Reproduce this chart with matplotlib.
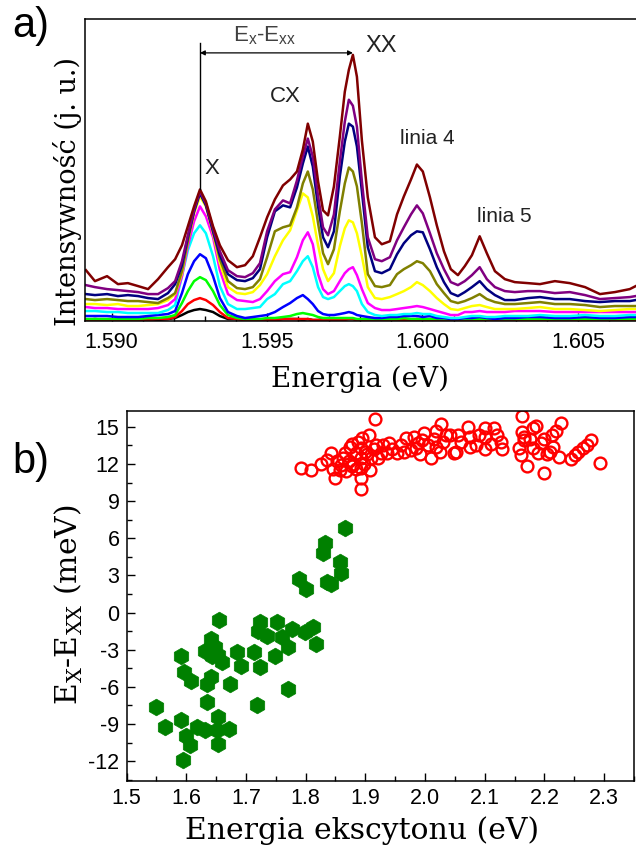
import numpy as np
import matplotlib.pyplot as plt
from matplotlib.ticker import MultipleLocator, FormatStrFormatter

plt.rcParams['font.family'] = ['Liberation Sans', 'DejaVu Sans']
plt.rcParams['axes.unicode_minus'] = False

# --- a) PL spectra, energy in eV, intensity in arbitrary units
energy = [1.58917, 1.58946, 1.58985, 1.59020, 1.59052, 1.59085, 1.59117, 1.59149, 1.59181, 1.59204,
          1.59226, 1.59245, 1.59265, 1.59284, 1.59303, 1.59326, 1.59348, 1.59374, 1.59403, 1.59429,
          1.59454, 1.59477, 1.59500, 1.59525, 1.59551, 1.59574, 1.59596, 1.59615, 1.59631, 1.59647,
          1.59664, 1.59680, 1.59696, 1.59715, 1.59734, 1.59750, 1.59763, 1.59776, 1.59789, 1.59805,
          1.59824, 1.59847, 1.59869, 1.59895, 1.59918, 1.59940, 1.59963, 1.59982, 1.60001, 1.60024,
          1.60046, 1.60069, 1.60091, 1.60114, 1.60136, 1.60159, 1.60184, 1.60207, 1.60233, 1.60265,
          1.60297, 1.60339, 1.60378, 1.60426, 1.60474, 1.60523, 1.60571, 1.60619, 1.60667, 1.60686]

black = [11, 12, 11, 12, 11, 12, 12, 11, 12, 13,
         16, 19, 21, 22, 21, 19, 15, 12, 12, 11,
         12, 11, 12, 11, 12, 12, 12, 11, 12, 11,
         11, 12, 11, 12, 11, 12, 12, 12, 11, 11,
         12, 11, 11, 12, 11, 12, 11, 12, 11, 12,
         11, 11, 12, 11, 12, 11, 12, 11, 11, 12,
         11, 12, 11, 12, 11, 12, 11, 12, 11, 12]
red = [11, 11, 11, 11, 11, 11, 11, 12, 12, 14,
       20, 27, 31, 33, 31, 26, 19, 13, 12, 11,
       11, 11, 11, 11, 12, 12, 12, 12, 12, 11,
       11, 11, 11, 11, 11, 11, 12, 12, 11, 11,
       11, 11, 11, 11, 11, 11, 11, 11, 11, 11,
       11, 11, 11, 11, 11, 11, 11, 11, 11, 11,
       11, 11, 11, 11, 11, 11, 11, 11, 11, 11]
green = [12, 12, 12, 12, 12, 12, 13, 13, 14, 16,
         28, 40, 50, 54, 51, 40, 26, 16, 13, 12,
         12, 12, 13, 13, 14, 15, 17, 18, 17, 16,
         14, 13, 13, 13, 13, 13, 13, 13, 12, 12,
         12, 12, 12, 12, 12, 13, 12, 12, 12, 12,
         12, 12, 12, 12, 12, 12, 12, 12, 12, 12,
         12, 12, 12, 12, 12, 12, 12, 12, 12, 12]
blue = [15, 15, 15, 14, 14, 14, 15, 16, 17, 20,
        38, 57, 70, 77, 73, 55, 33, 19, 15, 13,
        14, 15, 16, 19, 24, 28, 33, 36, 32, 27,
        20, 17, 16, 16, 17, 18, 19, 18, 16, 15,
        14, 13, 13, 14, 14, 15, 15, 15, 14, 15,
        13, 13, 12, 12, 13, 13, 14, 13, 12, 13,
        13, 14, 14, 13, 13, 14, 13, 13, 14, 14]
cyan = [20, 20, 19, 19, 18, 18, 18, 18, 21, 26,
        55, 81, 98, 106, 98, 75, 45, 27, 22, 22,
        23, 24, 32, 37, 47, 50, 60, 70, 75, 64,
        44, 34, 32, 34, 40, 45, 47, 45, 40, 27,
        19, 16, 15, 16, 16, 17, 17, 18, 17, 17,
        15, 14, 13, 13, 14, 15, 15, 14, 14, 15,
        15, 15, 16, 15, 15, 16, 15, 15, 16, 16]
magenta = [24, 23, 23, 22, 22, 22, 22, 23, 26, 32,
           55, 85, 110, 125, 115, 94, 61, 37, 31, 30,
           29, 32, 40, 50, 57, 59, 74, 91, 99, 87,
           57, 42, 37, 40, 50, 58, 62, 64, 56, 42,
           28, 23, 21, 21, 22, 23, 24, 25, 24, 22,
           20, 18, 16, 16, 19, 19, 20, 19, 19, 19,
           20, 20, 20, 19, 19, 19, 19, 19, 19, 19]
yellow = [27, 27, 26, 27, 25, 25, 26, 27, 31, 37,
          58, 90, 118, 135, 125, 98, 68, 44, 38, 37,
          39, 46, 57, 75, 91, 101, 121, 138, 134, 115,
          86, 62, 50, 58, 85, 103, 111, 109, 98, 75,
          44, 33, 32, 34, 37, 40, 44, 49, 46, 40,
          33, 27, 22, 21, 23, 25, 26, 24, 22, 22,
          22, 23, 24, 22, 22, 21, 20, 21, 22, 22]
olive = [32, 31, 32, 31, 30, 30, 29, 28, 33, 38,
         60, 90, 120, 140, 127, 100, 72, 50, 43, 42,
         44, 52, 74, 100, 104, 106, 124, 148, 160, 142,
         108, 78, 67, 82, 120, 148, 164, 160, 145, 108,
         57, 45, 44, 46, 57, 62, 66, 70, 68, 60,
         47, 38, 30, 28, 30, 33, 37, 32, 29, 27,
         27, 28, 29, 27, 27, 26, 24, 25, 25, 25]
navy = [37, 36, 37, 35, 36, 35, 33, 32, 38, 47,
        66, 94, 120, 138, 126, 100, 76, 57, 51, 50,
        53, 62, 94, 120, 126, 124, 144, 168, 185, 165,
        125, 94, 84, 100, 155, 190, 208, 205, 185, 140,
        84, 60, 58, 62, 77, 88, 96, 100, 99, 82,
        64, 49, 38, 35, 39, 44, 50, 42, 36, 31,
        31, 33, 34, 32, 32, 30, 29, 30, 30, 31]
purple = [46, 44, 42, 41, 40, 39, 37, 37, 43, 50,
          70, 96, 122, 140, 128, 103, 80, 61, 55, 54,
          58, 68, 100, 122, 131, 128, 151, 175, 193, 175,
          135, 104, 96, 117, 170, 210, 232, 226, 205, 150,
          94, 72, 70, 74, 91, 104, 117, 126, 118, 98,
          78, 62, 49, 46, 50, 56, 64, 52, 44, 40,
          39, 40, 40, 38, 39, 36, 32, 33, 34, 35]
maroon = [61, 50, 55, 47, 48, 45, 42, 52, 64, 72,
          86, 105, 125, 142, 130, 105, 86, 71, 64, 66,
          75, 94, 114, 132, 146, 152, 160, 182, 208, 190,
          150, 121, 116, 145, 195, 240, 262, 277, 255, 191,
          134, 94, 87, 90, 117, 135, 152, 167, 160, 134,
          106, 80, 62, 56, 65, 76, 95, 78, 60, 52,
          49, 48, 47, 50, 48, 44, 37, 39, 42, 45]

spectra = [black, red, green, blue, cyan, magenta, yellow, olive, navy, purple, maroon]
colors = ['#000000', '#ff0000', '#00ff00', '#0000ff', '#00ffff', '#ff00ff',
          '#ffff00', '#808000', '#000080', '#800080', '#800000']

# --- b) biexciton binding energy vs exciton energy
green_E = [1.549, 1.564, 1.592, 1.592, 1.596, 1.599, 1.607, 1.608, 1.595, 1.618,
           1.632, 1.634, 1.634, 1.642, 1.632, 1.641, 1.649, 1.654, 1.660, 1.643,
           1.653, 1.652, 1.671, 1.653, 1.655, 1.674, 1.685, 1.691, 1.713, 1.724,
           1.718, 1.724, 1.721, 1.735, 1.752, 1.760, 1.749, 1.771, 1.777, 1.771,
           1.799, 1.813, 1.818, 1.789, 1.800, 1.829, 1.832, 1.835, 1.843, 1.857,
           1.859, 1.866]
green_dE = [-7.6, -9.2, -8.7, -3.5, -4.8, -10.0, -10.7, -5.5, -11.9, -9.2,
            -9.5, -7.2, -5.8, -5.2, -3.1, -2.1, -2.8, -3.4, -4.0, -3.5,
            -8.4, -9.5, -9.4, -10.6, -0.6, -5.8, -3.2, -4.3, -3.2, -4.4,
            -7.5, -0.8, -1.5, -1.9, -0.8, -2.0, -3.5, -2.8, -1.3, -6.2,
            -1.6, -1.2, -2.5, 2.7, 1.9, 4.8, 5.6, 2.5, 2.3, 4.1,
            3.2, 6.8]

red_E = [1.792, 1.809, 1.826, 1.842, 1.846, 1.850, 1.857, 1.863, 1.868, 1.874,
         1.877, 1.878, 1.885, 1.893, 1.893, 1.893, 1.893, 1.893, 1.895, 1.907,
         1.910, 1.917, 1.918, 1.927, 1.937, 1.940, 1.953, 1.968, 1.977, 1.982,
         1.988, 1.991, 1.999, 2.010, 2.018, 2.019, 2.026, 2.035, 2.042, 2.049,
         2.055, 2.052, 2.072, 2.075, 2.075, 2.100, 2.100, 2.100, 2.115, 2.128,
         2.129, 2.162, 2.163, 2.166, 2.158, 2.160, 2.170, 2.180, 2.186, 2.180,
         2.195, 2.200, 2.209, 2.212, 2.220, 2.227, 2.225, 2.252, 2.256, 2.272,
         2.278, 2.293,
         1.835, 1.853, 1.860, 1.866, 1.872, 1.880, 1.884, 1.888, 1.897, 1.900,
         1.903, 1.915, 1.922, 1.930, 1.945, 1.960, 1.965, 1.985, 1.995, 2.005,
         2.015, 2.025, 2.030, 2.060, 2.085, 2.090, 2.110, 2.120, 2.165, 2.175,
         2.190, 2.200, 2.205, 2.215, 2.245, 2.265, 1.906]
red_dE = [11.7, 11.5, 12.0, 12.9, 11.6, 10.9, 11.5, 12.5, 11.4, 13.4,
          11.8, 13.6, 12.9, 13.3, 12.5, 11.7, 10.9, 10.0, 14.1, 11.5,
          12.5, 15.6, 13.5, 12.9, 12.9, 13.7, 12.9, 14.1, 13.1, 14.2,
          13.7, 12.8, 14.5, 12.5, 13.4, 14.7, 15.2, 14.3, 14.3, 12.9,
          14.3, 13.0, 15.0, 14.2, 13.4, 14.9, 14.2, 13.2, 14.9, 13.8,
          13.2, 15.9, 14.6, 13.9, 13.3, 12.7, 11.8, 14.9, 15.1, 13.3,
          13.7, 11.3, 13.0, 14.3, 14.7, 15.3, 12.6, 12.7, 13.0, 13.5,
          13.9, 12.1,
          12.3, 12.2, 11.9, 12.9, 12.2, 12.0, 11.6, 13.8, 12.0, 13.0,
          12.8, 13.2, 12.5, 13.5, 13.2, 13.5, 13.0, 13.3, 13.9, 13.5,
          14.0, 13.0, 13.8, 13.8, 13.5, 14.3, 13.6, 14.3, 14.2, 14.0,
          12.9, 14.0, 12.8, 13.4, 12.4, 13.3, 14.3]

W, H = 636, 850

def fx(px):
    return px / W

def fy(py):
    return 1 - py / H

serif = 'DejaVu Serif'
fig = plt.figure(figsize=(W / 100, H / 100), dpi=100)

# ---------------- panel a
ax1 = fig.add_axes([fx(85), fy(321), fx(636) - fx(85), fy(19) - fy(321)])
for vals, c in zip(spectra, colors):
    ax1.plot(energy, vals, color=c, lw=1.8)
ax1.set_xlim(1.58914, 1.60687)
ax1.set_ylim(10, 313)
ax1.spines['right'].set_visible(False)
for s in ax1.spines.values():
    s.set_linewidth(1.1)
ax1.set_yticks([])
ax1.xaxis.set_major_locator(MultipleLocator(0.005))
ax1.xaxis.set_minor_locator(MultipleLocator(0.001))
ax1.xaxis.set_major_formatter(FormatStrFormatter('%.3f'))
ax1.tick_params(axis='x', which='both', direction='in')
ax1.tick_params(axis='x', which='major', length=6, width=1, labelsize=15.5, pad=8)
ax1.tick_params(axis='x', which='minor', length=3.5, width=1)

e = np.array(energy)
m = np.array(maroon)
ix = np.argmax(np.where(e < 1.594, m, 0))
ixx = np.argmax(m)
ax1.plot([e[ix], e[ix]], [m[ix], 289], color='k', lw=1)
ax1.annotate('', xy=(e[ixx], 279), xytext=(e[ix], 279),
             arrowprops=dict(arrowstyle='<|-|>', color='k', lw=0.9,
                             mutation_scale=7, shrinkA=0, shrinkB=0))

fig.text(fx(265), fy(36), r'E$_\mathregular{x}$-E$_\mathregular{xx}$', fontsize=16,
         color='#404040', ha='center', va='center')
fig.text(fx(212), fy(168), 'X', fontsize=16, color='#222222', ha='center', va='center')
fig.text(fx(285), fy(96), 'CX', fontsize=16, color='#222222', ha='center', va='center')
fig.text(fx(381), fy(46), 'XX', fontsize=17, color='#222222', ha='center', va='center')
fig.text(fx(427), fy(138), 'linia 4', fontsize=15, color='#222222', ha='center', va='center')
fig.text(fx(504), fy(216), 'linia 5', fontsize=15, color='#222222', ha='center', va='center')

fig.text(fx(360), fy(379), 'Energia (eV)', family=serif, fontsize=20, ha='center', va='center')
fig.text(fx(68), fy(192), 'Intensywność (j. u.)', family=serif, fontsize=19.5,
         rotation=90, ha='center', va='center')
fig.text(fx(31), fy(26), 'a)', fontsize=30, ha='center', va='center')

# ---------------- panel b
ax2 = fig.add_axes([fx(126.5), fy(781), fx(634) - fx(126.5), fy(410.7) - fy(781)])
ax2.plot(green_E, green_dE, 'h', color='#008000', ms=12, mec='#008000', mew=0.5)
ax2.plot(red_E, red_dE, 'o', mfc='none', mec='#ff0000', ms=8.5, mew=1.7)
ax2.set_xlim(1.5, 2.35)
ax2.set_ylim(-13.6, 16.3)
for s in ax2.spines.values():
    s.set_linewidth(1.1)
ax2.xaxis.set_major_locator(MultipleLocator(0.1))
ax2.xaxis.set_minor_locator(MultipleLocator(0.05))
ax2.xaxis.set_major_formatter(FormatStrFormatter('%.1f'))
ax2.yaxis.set_major_locator(MultipleLocator(3))
ax2.yaxis.set_minor_locator(MultipleLocator(1.5))
ax2.tick_params(which='both', direction='in')
ax2.tick_params(which='major', length=6, width=1, labelsize=15.5, pad=5)
ax2.tick_params(which='minor', length=3.5, width=1)

fig.text(fx(362), fy(831), 'Energia ekscytonu (eV)', family=serif, fontsize=21.5,
         ha='center', va='center')
fig.text(fx(69), fy(605), r'E$_\mathregular{X}$-E$_\mathregular{XX}$ (meV)', family=serif,
         fontsize=21.5, rotation=90, ha='center', va='center')
fig.text(fx(31), fy(462), 'b)', fontsize=30, ha='center', va='center')

fig.savefig('out.png', dpi=100)
